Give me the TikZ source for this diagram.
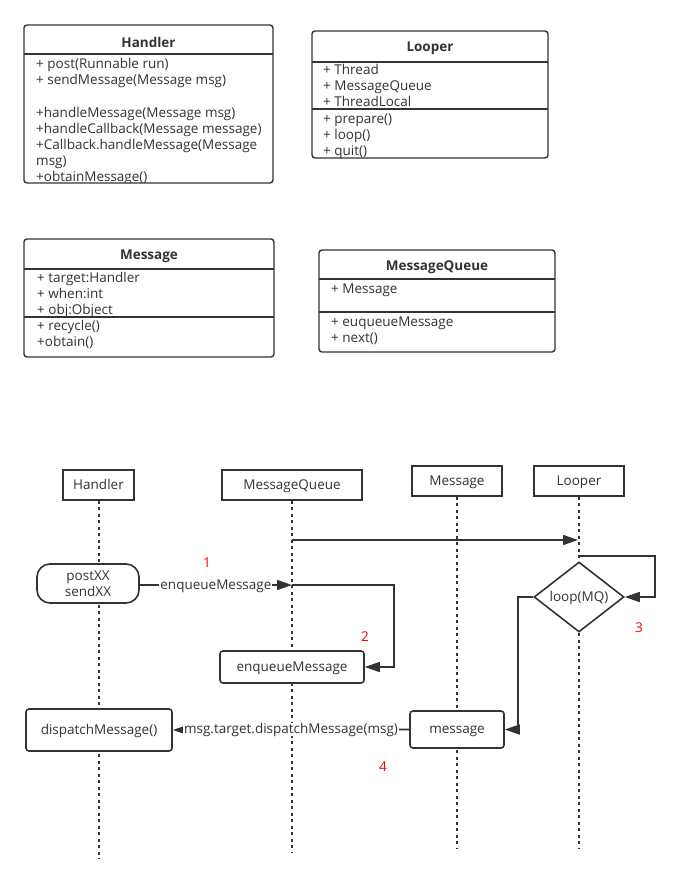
\documentclass[tikz,border=0pt]{standalone}
\usepackage{fontspec}
\setmainfont{Open Sans}
\usetikzlibrary{arrows.meta,shapes.geometric}
\definecolor{linecol}{HTML}{333333}
\definecolor{txtcol}{HTML}{333333}
\tikzset{
    classbox/.style={rectangle, draw=linecol, line width=1.4pt, rounded corners=3pt, fill=white},
    classtitle/.style={font=\fontsize{13.5}{16}\selectfont\bfseries, text=txtcol},
    members/.style={anchor=north west, align=left, inner sep=0pt, font=\fontsize{13.5}{16}\selectfont, text=txtcol},
    divider/.style={draw=linecol, line width=1.4pt},
    lowtext/.style={text height=0.95em, text depth=0.13em},
    headbox/.style={rectangle, draw=linecol, line width=1.6pt, fill=white, text=txtcol, lowtext},
    actbox/.style={rectangle, draw=linecol, line width=1.6pt, rounded corners=3pt, fill=white, text=txtcol},
    lifeline/.style={draw=linecol, line width=1.7pt, dash pattern=on 3pt off 3.5pt},
    msg/.style={draw=linecol, line width=1.6pt, -{Triangle[length=15pt,width=10pt]}},
    mlabel/.style={fill=white, inner sep=1pt, text=txtcol, lowtext},
    stepnum/.style={text=red}
}
\begin{document}
\begin{tikzpicture}[x=1pt, y=-1pt, font=\fontsize{13.5}{16}\selectfont]
    \useasboundingbox (0,0) rectangle (684,889);

    % class boxes
    \node [classbox, minimum width=249pt, minimum height=158pt] (handlerCls) at (148.5,104) {};
    \node [classtitle] (handlerName) at (148.5,42) {Handler};
    \draw [divider] (24,54) -- (273,54);
    \begin{scope}
        \clip (24,25) rectangle (273,182);
        \node [members] (handlerOps) at (36,58.5) {+ post(Runnable run)\\+ sendMessage(Message msg)};
        \node [members] (handlerCb) at (36,107.5) {+handleMessage(Message msg)\\+handleCallback(Message message)\\+Callback.handleMessage(Message\\msg)\\+obtainMessage()};
    \end{scope}

    \node [classbox, minimum width=236pt, minimum height=127pt] (looperCls) at (430,94.5) {};
    \node [classtitle] (looperName) at (430,48) {Looper};
    \draw [divider] (312,62) -- (548,62);
    \draw [divider] (312,109) -- (548,109);
    \node [members] (looperAttr) at (323,64.5) {+ Thread\\+ MessageQueue\\+ ThreadLocal};
    \node [members] (looperOps) at (323,113.5) {+ prepare()\\+ loop()\\+ quit()};

    \node [classbox, minimum width=250pt, minimum height=118pt] (messageCls) at (149,298) {};
    \node [classtitle] (messageName) at (149,256) {Message};
    \draw [divider] (24,269) -- (274,269);
    \draw [divider] (24,317) -- (274,317);
    \node [members] (messageAttr) at (37,272.5) {+ target:Handler\\+ when:int\\+ obj:Object};
    \node [members] (messageOps) at (37,320.5) {+ recycle()\\+obtain()};

    \node [classbox, minimum width=236pt, minimum height=102pt] (queueCls) at (437,301) {};
    \node [classtitle] (queueName) at (437,267) {MessageQueue};
    \draw [divider] (319,279) -- (555,279);
    \draw [divider] (319,312) -- (555,312);
    \node [members] (queueAttr) at (331,283.5) {+ Message};
    \node [members] (queueOps) at (331,316.5) {+ euqueueMessage\\+ next()};

    % sequence
    \node [headbox, minimum width=71pt, minimum height=30pt] (hHead) at (98.5,485) {Handler};
    \node [headbox, minimum width=140pt, minimum height=30pt] (qHead) at (292,485) {MessageQueue};
    \node [headbox, minimum width=90pt, minimum height=30pt] (mHead) at (457,481) {Message};
    \node [headbox, minimum width=90pt, minimum height=30pt] (lHead) at (579,481) {Looper};

    \coordinate (hEnd) at (99,859);
    \coordinate (qEnd) at (292,852);
    \coordinate (mEnd) at (457,848);
    \coordinate (lEnd) at (579,848);
    \draw [lifeline] (hHead.south -| hEnd) -- (hEnd);
    \draw [lifeline] (qHead.south) -- (qEnd);
    \draw [lifeline] (mHead.south) -- (mEnd);
    \draw [lifeline] (lHead.south) -- (lEnd);

    \node [actbox, rounded corners=13pt, align=center, minimum width=102pt, minimum height=39pt] (postBox) at (88,583.5) {postXX\\sendXX};
    \node [actbox, lowtext, minimum width=144pt, minimum height=32pt] (enqBox) at (292,667) {enqueueMessage};
    \node [actbox, lowtext, minimum width=94pt, minimum height=37pt] (msgBox) at (457,729.5) {message};
    \node [actbox, lowtext, minimum width=146pt, minimum height=42pt] (dispBox) at (99,730) {dispatchMessage()};
    \node [diamond, draw=linecol, line width=1.6pt, fill=white, text=txtcol, lowtext, inner sep=0pt, aspect=1.3, minimum width=90pt, minimum height=70pt] (loopDia) at (579,597) {loop(MQ)};

    \coordinate (qStart) at (292,540);
    \coordinate (lArrive) at (578,540);
    \coordinate (lStart) at (579,556);
    \coordinate (qArrive) at (292,585);

    \draw [msg] (qStart) -- (lArrive);
    \draw [msg] (lStart) -- ++(76,0) |- (loopDia.east);
    \draw [msg] (postBox.east |- qArrive) -- (qArrive) node [mlabel, midway] {enqueueMessage};
    \draw [msg] (qArrive) -- ++(102,0) |- (enqBox.east);
    \draw [msg] (loopDia.west) -- ++(-15,0) |- (msgBox.east);
    \draw [msg] (msgBox.west) -- (dispBox.east) node [mlabel, midway] {msg.target.dispatchMessage(msg)};

    \node [stepnum] (num1) at (207,563) {1};
    \node [stepnum] (num2) at (365,637) {2};
    \node [stepnum] (num3) at (639,628) {3};
    \node [stepnum] (num4) at (383,767) {4};
\end{tikzpicture}
\end{document}
